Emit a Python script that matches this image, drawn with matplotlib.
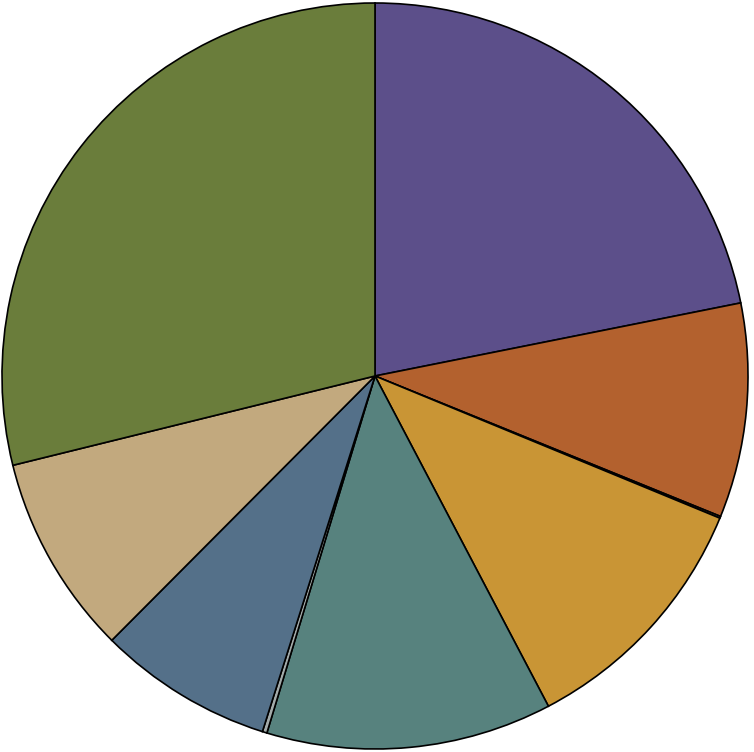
import matplotlib
matplotlib.use("Agg")
import matplotlib.pyplot as plt

categories = ["A", "B", "C", "D", "E", "F", "G", "H", "I"]
values = [21.9, 9.3, 0.08, 11.1, 12.4, 0.2, 7.6, 8.7, 28.9]
colors = ["#5C4F8A", "#B3612E", "#B8865A", "#C99535", "#57827E",
          "#A3ABAA", "#547089", "#C2A97E", "#6A7D3B"]

fig = plt.figure(figsize=(7.54, 7.52), dpi=100)
ax = fig.add_axes([0, 0, 1, 1])
ax.pie(values, colors=colors, startangle=90, counterclock=False,
       radius=1.0, center=(0, 0),
       wedgeprops=dict(edgecolor="black", linewidth=1.2))
r = 373.0
ax.set_xlim(-375 / r, (754 - 375) / r)
ax.set_ylim(-(752 - 376) / r, 376 / r)
ax.set_aspect("auto")
ax.axis("off")
fig.savefig("out.png", dpi=100, facecolor="white")
